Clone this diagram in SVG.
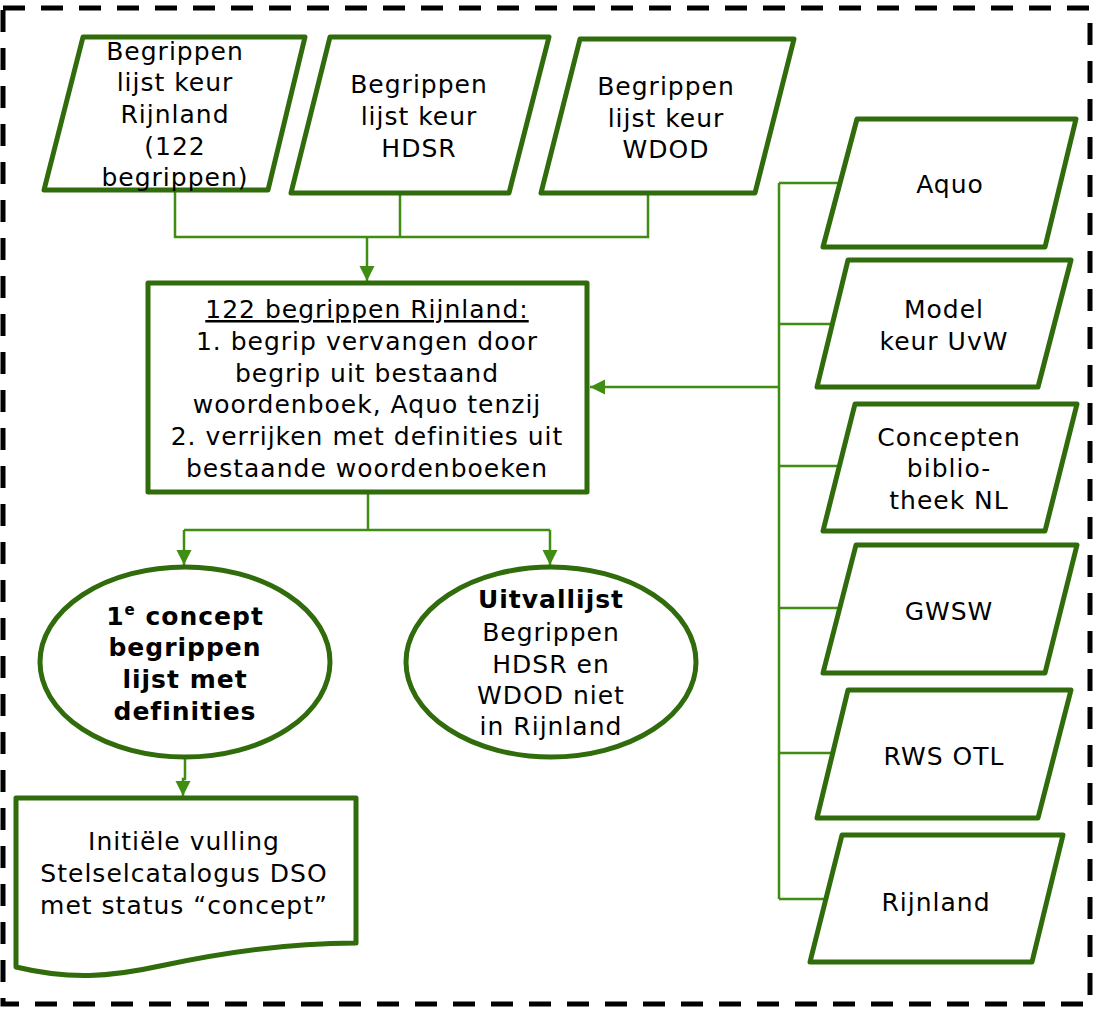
<svg xmlns="http://www.w3.org/2000/svg" width="1096" height="1010" viewBox="0 0 1096 1010">
<defs>
<style>
.node{fill:#ffffff;stroke:#306b0c;stroke-width:5;stroke-linejoin:round}
.conn{fill:none;stroke:#3f8d13;stroke-width:2.5}
.t{font-family:"DejaVu Sans",Verdana,sans-serif;font-size:25px;letter-spacing:1px;fill:#000;text-anchor:middle}
.b{font-weight:bold}
</style>
<marker id="arr" viewBox="0 0 10 10" refX="10" refY="5" markerUnits="userSpaceOnUse" markerWidth="15" markerHeight="16" orient="auto">
<path d="M0,0 L10,5 L0,10 Z" fill="#3f8d13"/>
</marker>
</defs>
<rect width="1096" height="1010" fill="#ffffff"/>
<rect id="frame" x="3" y="8" width="1087" height="996" fill="none" stroke="#000" stroke-width="5" stroke-dasharray="22 16"/>

<g id="connectors">
<path class="conn" d="M175,190 V237 H648 V193"/>
<path class="conn" d="M400,193 V237"/>
<path class="conn" d="M367,237 V281" marker-end="url(#arr)"/>
<path class="conn" d="M779,183 V899"/>
<path class="conn" d="M779,183 H840"/>
<path class="conn" d="M779,324 H832"/>
<path class="conn" d="M779,466 H839"/>
<path class="conn" d="M779,608 H840"/>
<path class="conn" d="M779,753 H833"/>
<path class="conn" d="M779,899 H826"/>
<path class="conn" d="M779,387 H590" marker-end="url(#arr)"/>
<path class="conn" d="M368,493 V530"/>
<path class="conn" d="M184,530 H550"/>
<path class="conn" d="M184,530 V565" marker-end="url(#arr)"/>
<path class="conn" d="M550,530 V565" marker-end="url(#arr)"/>
<path class="conn" d="M185,757 V779 H183 V796" marker-end="url(#arr)"/>
</g>

<g id="keur-rijnland">
<polygon class="node" points="83,37 305,37 268,190 44,190"/>
<text class="t" x="175" y="60">Begrippen</text>
<text class="t" x="175" y="91">lijst keur</text>
<text class="t" x="175" y="123">Rijnland</text>
<text class="t" x="175" y="155">(122</text>
<text class="t" x="175" y="186">begrippen)</text>
</g>

<g id="keur-hdsr">
<polygon class="node" points="330,37 549,37 509,193 291,193"/>
<text class="t" x="419" y="93">Begrippen</text>
<text class="t" x="419" y="125">lijst keur</text>
<text class="t" x="419" y="157">HDSR</text>
</g>

<g id="keur-wdod">
<polygon class="node" points="580,39 794,39 755,193 541,193"/>
<text class="t" x="666" y="95">Begrippen</text>
<text class="t" x="666" y="127">lijst keur</text>
<text class="t" x="666" y="158">WDOD</text>
</g>

<g id="verwerking">
<rect class="node" x="148" y="283" width="439" height="209"/>
<text class="t" x="367" y="318" text-decoration="underline">122 begrippen Rijnland:</text>
<text class="t" x="367" y="350">1. begrip vervangen door</text>
<text class="t" x="367" y="382">begrip uit bestaand</text>
<text class="t" x="367" y="413">woordenboek, Aquo tenzij</text>
<text class="t" x="367" y="445">2. verrijken met definities uit</text>
<text class="t" x="367" y="477">bestaande woordenboeken</text>
</g>

<g id="aquo">
<polygon class="node" points="857,119 1076,119 1045,247 823,247"/>
<text class="t" x="950" y="193">Aquo</text>
</g>

<g id="model-keur">
<polygon class="node" points="848,260 1071,260 1038,387 817,387"/>
<text class="t" x="944" y="318">Model</text>
<text class="t" x="944" y="350">keur UvW</text>
</g>

<g id="conceptenbibliotheek">
<polygon class="node" points="855,404 1077,404 1045,531 823,531"/>
<text class="t" x="949" y="446">Concepten</text>
<text class="t" x="949" y="477">biblio-</text>
<text class="t" x="949" y="509">theek NL</text>
</g>

<g id="gwsw">
<polygon class="node" points="856,545 1077,545 1045,673 823,673"/>
<text class="t" x="949" y="620">GWSW</text>
</g>

<g id="rws-otl">
<polygon class="node" points="848,690 1071,690 1038,818 817,818"/>
<text class="t" x="944" y="765">RWS OTL</text>
</g>

<g id="rijnland">
<polygon class="node" points="842,835 1063,835 1032,962 810,962"/>
<text class="t" x="936" y="911">Rijnland</text>
</g>

<g id="concept-lijst">
<ellipse class="node" cx="185" cy="662" rx="145" ry="95"/>
<text class="t b" x="185" y="625">1<tspan font-size="15" dy="-10">e</tspan><tspan dy="10"> concept</tspan></text>
<text class="t b" x="185" y="656">begrippen</text>
<text class="t b" x="185" y="688">lijst met</text>
<text class="t b" x="185" y="720">definities</text>
</g>

<g id="uitvallijst">
<ellipse class="node" cx="551" cy="662" rx="145" ry="95"/>
<text class="t b" x="551" y="608">Uitvallijst</text>
<text class="t" x="551" y="641">Begrippen</text>
<text class="t" x="551" y="673">HDSR en</text>
<text class="t" x="551" y="704">WDOD niet</text>
<text class="t" x="551" y="735">in Rijnland</text>
</g>

<g id="stelselcatalogus">
<path class="node" d="M16,798 H356 V943 C290,943 220,953 160,966 C110,977 70,980 16,967 Z"/>
<text class="t" x="184" y="850">Initiële vulling</text>
<text class="t" x="184" y="882">Stelselcatalogus DSO</text>
<text class="t" x="184" y="914">met status “concept”</text>
</g>
</svg>
